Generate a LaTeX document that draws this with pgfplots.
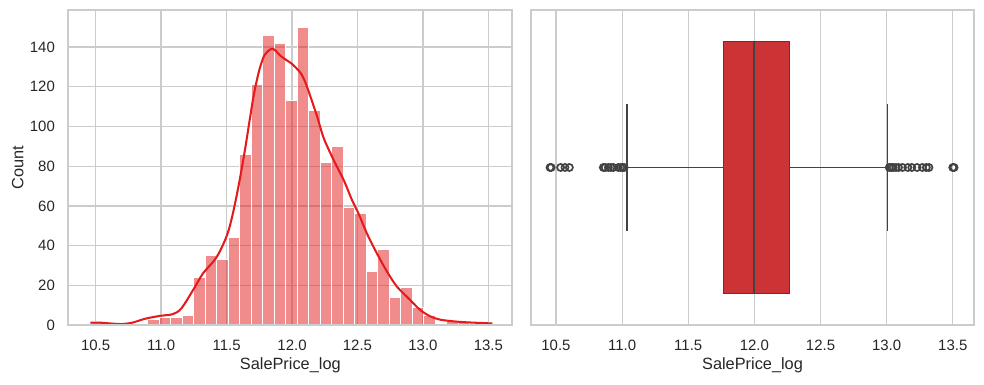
\documentclass[border=0pt]{standalone}
\usepackage{fontspec}
\setmainfont{Liberation Sans}
\usepackage{pgfplots}
\pgfplotsset{compat=1.18}
\usepgfplotslibrary{statistics}
\definecolor{gridc}{HTML}{CCCCCC}
\definecolor{txt}{HTML}{262626}
\definecolor{redl}{HTML}{E41A1C}
\definecolor{boxr}{HTML}{CB3335}
\definecolor{lgray}{HTML}{424242}
\pgfplotsset{
  sbase/.style={
    scale only axis, height=231.4pt,
    axis line style={draw=gridc, line width=1.25pt},
    major tick length=0pt,
    grid style={draw=gridc, line width=0.9pt},
    tick label style={font=\fontsize{11}{13}\selectfont, text=txt},
    label style={font=\fontsize{12}{14}\selectfont, text=txt},
    /pgf/number format/assume math mode=true,
    xtick={10.5,11,11.5,12,12.5,13,13.5},
    xticklabel={\pgfmathprintnumber[fixed,fixed zerofill,precision=1]{\tick}},
    xticklabel style={yshift=-7.8pt},
    yticklabel style={xshift=-6.3pt},
    xlabel style={at={(axis description cs:0.5,-0.1406)}, anchor=base},
    xlabel={SalePrice\_log},
    clip=false,
  }
}
\begin{document}
\begin{tikzpicture}
\useasboundingbox (-50.16pt,-43.33pt) rectangle (672.5pt,238.7pt);
% ---------------- histogram ----------------
\begin{axis}[sbase, at={(0pt,0pt)}, anchor=south west, width=326.1pt,
  xmin=10.291, xmax=13.683, ymin=0, ymax=158.7,
  ytick={0,20,40,60,80,100,120,140},
  yticklabel={\pgfmathprintnumber[fixed,precision=0]{\tick}},
  xmajorgrids, ymajorgrids,
  ylabel={Count},
  ylabel style={at={(axis description cs:-0.1014,0.5)}, anchor=base},
]
\addplot[ybar interval, fill=redl, fill opacity=0.5, draw=white, line width=0.8pt] coordinates {
(10.4602,2)(10.5480,1)(10.6359,0)(10.7237,0)(10.8116,1)(10.8994,3)(10.9873,4)
(11.0751,4)(11.1629,5)(11.2508,24)(11.3386,35)(11.4265,33)(11.5143,44)(11.6022,86)
(11.6900,121)(11.7778,146)(11.8657,142)(11.9535,113)(12.0414,150)(12.1292,108)
(12.2171,82)(12.3049,90)(12.3927,59)(12.4806,56)(12.5684,27)(12.6563,38)
(12.7441,14)(12.8320,19)(12.9198,9)(13.0076,5)(13.0955,0)(13.1833,2)(13.2712,2)
(13.3590,1)(13.4469,1)(13.5347,0)
};
\addplot[smooth, tension=0.5, draw=redl, line width=1.5pt] coordinates {
(10.460,1.2)(10.533,1.2)(10.609,0.8)(10.70,0.5)(10.78,1.2)(10.88,3.2)(10.99,4.6)
(11.09,5.5)(11.155,8.4)(11.244,17.6)(11.32,26)(11.40,32)(11.44,36)(11.49,43)
(11.524,49.6)(11.56,59.7)(11.60,73)(11.64,88)(11.676,103)(11.71,116.6)(11.75,128.4)
(11.79,136)(11.84,139)(11.87,138.5)(11.905,136)(11.956,133.5)(12.0,131.5)
(12.065,127)(12.103,122)(12.141,115)(12.192,105)(12.243,94)(12.319,83)(12.395,73)
(12.458,63)(12.509,56)(12.573,46)(12.649,36)(12.725,27)(12.802,19.3)(12.903,12.6)
(12.979,7.6)(13.055,4.4)(13.132,2.7)(13.259,1.7)(13.386,1.2)(13.531,0.8)
};
\draw[gridc, line width=1.25pt] (rel axis cs:0,0) rectangle (rel axis cs:1,1);
\end{axis}
% ---------------- boxplot ----------------
\begin{axis}[sbase, at={(339.8pt,0pt)}, anchor=south west, width=325.4pt,
  xmin=10.311, xmax=13.661, ymin=-0.5, ymax=0.5,
  ytick=\empty, xmajorgrids,
  boxplot/every box/.style={draw=lgray, fill=boxr, line width=1.2pt},
  boxplot/every whisker/.style={draw=lgray, line width=1.2pt},
  boxplot/every median/.style={draw=lgray, line width=1.2pt},
]
\addplot[boxplot prepared={lower whisker=11.035, lower quartile=11.766, median=11.995,
    upper quartile=12.265, upper whisker=13.006, draw direction=x, draw position=0,
    box extend=0.8, whisker extend=0.4},
  draw=lgray, fill=boxr, line width=1.2pt, mark=none]
  coordinates {};
\addplot[only marks, mark=o, mark size=2.6pt, draw=lgray, line width=1.25pt] coordinates {
  (10.455,0)(10.463,0)(10.535,0)(10.568,0)(10.601,0)(10.858,0)(10.872,0)(10.896,0)
  (10.915,0)(10.934,0)(10.971,0)(10.990,0)(11.004,0)(11.015,0)
  (13.02,0)(13.035,0)(13.05,0)(13.07,0)(13.09,0)(13.12,0)(13.16,0)(13.19,0)(13.23,0)
  (13.27,0)(13.30,0)(13.32,0)(13.50,0)(13.51,0)
};
\draw[gridc, line width=1.25pt] (rel axis cs:0,0) rectangle (rel axis cs:1,1);
\end{axis}
\end{tikzpicture}
\end{document}
